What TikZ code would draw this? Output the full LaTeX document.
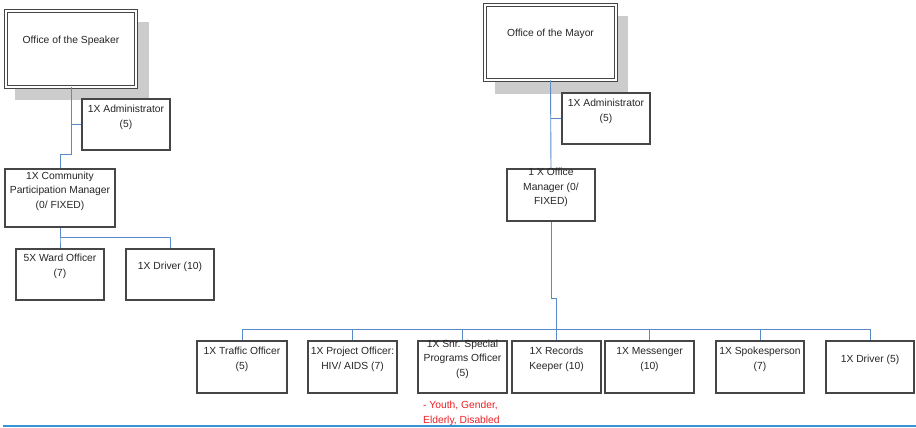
\documentclass[tikz,border=0pt]{standalone}
\usepackage{fontspec}
\setmainfont{Liberation Sans}
\definecolor{conncol}{RGB}{91,138,200}
\definecolor{boxcol}{RGB}{70,70,70}
\definecolor{shadcol}{RGB}{204,204,204}
\definecolor{rulecol}{RGB}{52,150,212}
\definecolor{notecol}{RGB}{235,30,35}
\begin{document}
\begin{tikzpicture}[x=1pt,y=-1pt,
  box/.style={draw=boxcol,line width=1.1pt,fill=white,inner sep=0pt},
  txt/.style={font=\fontsize{10.3}{14.5}\selectfont,align=center,inner sep=0pt,text=black!85},
  office/.style={draw=boxcol,line width=0.8pt,double=white,double distance=1.6pt,fill=white,inner sep=0pt},
  conn/.style={draw=conncol,line width=0.9pt},
  note/.style={font=\fontsize{10.3}{14.5}\selectfont,align=left,inner sep=0pt,text=notecol}]
\useasboundingbox (0,0) rectangle (916,428);
% shadows
\fill[shadcol] (15,22) rectangle (149,100);
\fill[shadcol] (495,16) rectangle (628,94);
% left tree boxes
\node[office,minimum width=130,minimum height=76] (speaker) at (71,49) {};
\node[box,minimum width=88,minimum height=51] (sadmin) at (126,124.5) {};
\node[box,minimum width=110,minimum height=58] (cpm) at (60,198) {};
\node[box,minimum width=88,minimum height=51] (ward) at (60,274.5) {};
\node[box,minimum width=88,minimum height=51] (sdriver) at (170,274.5) {};
% right tree boxes
\node[office,minimum width=131,minimum height=75] (mayor) at (550.5,42.5) {};
\node[box,minimum width=88,minimum height=51] (madmin) at (606,118.5) {};
\node[box,minimum width=88,minimum height=52] (om) at (551,195) {};
\node[box,minimum width=90,minimum height=52] (traffic) at (242,367) {};
\node[box,minimum width=89,minimum height=52] (project) at (352.5,367) {};
\node[box,minimum width=89,minimum height=52] (snr) at (462.5,367) {};
\node[box,minimum width=89,minimum height=52] (records) at (556.5,367) {};
\node[box,minimum width=89,minimum height=52] (messenger) at (649.5,367) {};
\node[box,minimum width=88,minimum height=52] (spokes) at (760,367) {};
\node[box,minimum width=88,minimum height=52] (mdriver) at (870,367) {};
% texts
\node[txt] (t-speaker) at ([yshift=8]speaker.center) {Office of the Speaker};
\node[txt] (t-sadmin) at ([yshift=7]sadmin.center) {1X Administrator\\(5)};
\node[txt] (t-cpm) at ([yshift=7]cpm.center) {1X Community\\Participation Manager\\(0/ FIXED)};
\node[txt] (t-ward) at ([yshift=8]ward.center) {5X Ward Officer\\(7)};
\node[txt] (t-sdriver) at ([yshift=7.5]sdriver.center) {1X Driver (10)};
\node[txt] (t-mayor) at ([yshift=8.5]mayor.center) {Office of the Mayor};
\node[txt] (t-madmin) at ([yshift=7]madmin.center) {1X Administrator\\(5)};
\node[txt] (t-om) at ([yshift=7.5]om.center) {1 X Office\\Manager (0/\\FIXED)};
\node[txt] (t-traffic) at ([yshift=7.5]traffic.center) {1X Traffic Officer\\(5)};
\node[txt] (t-project) at ([yshift=7.5]project.center) {1X Project Officer:\\HIV/ AIDS (7)};
\node[txt] (t-snr) at ([yshift=8]snr.center) {1X Snr. Special\\Programs Officer\\(5)};
\node[txt] (t-records) at ([yshift=7.5]records.center) {1X Records\\Keeper (10)};
\node[txt] (t-messenger) at ([yshift=7.5]messenger.center) {1X Messenger\\(10)};
\node[txt] (t-spokes) at ([yshift=7.5]spokes.center) {1X Spokesperson\\(7)};
\node[txt] (t-mdriver) at ([yshift=7]mdriver.center) {1X Driver (5)};
\node[note,anchor=north west] (t-note) at (423,401) {- Youth, Gender,\\Elderly, Disabled};
% connectors left
\draw[conn] (speaker.south) |- (sadmin.west);
\draw[conn] (speaker.south) -- ++(0,67) -| (cpm.north);
\draw[conn] (cpm.south) -- ++(0,10) -| (ward.north);
\draw[conn] (cpm.south) -- ++(0,10) -| (sdriver.north);
% connectors right
\draw[conn] (mayor.south) -- (om.north);
\draw[conn] (mayor.south |- madmin.west) -- (madmin.west);
\draw[conn] (om.south) -- ++(0,77) -| (records.north);
\coordinate (bus) at (0,329);
\draw[conn] (traffic.north) |- (bus -| mdriver.north) -- (mdriver.north);
\foreach \b in {project,snr,messenger,spokes}
  \draw[conn] (\b.north) -- (\b.north |- bus);
% bottom rule
\draw[rulecol,line width=2.2pt] (3,425.8) -- (916,425.8);
\end{tikzpicture}
\end{document}
